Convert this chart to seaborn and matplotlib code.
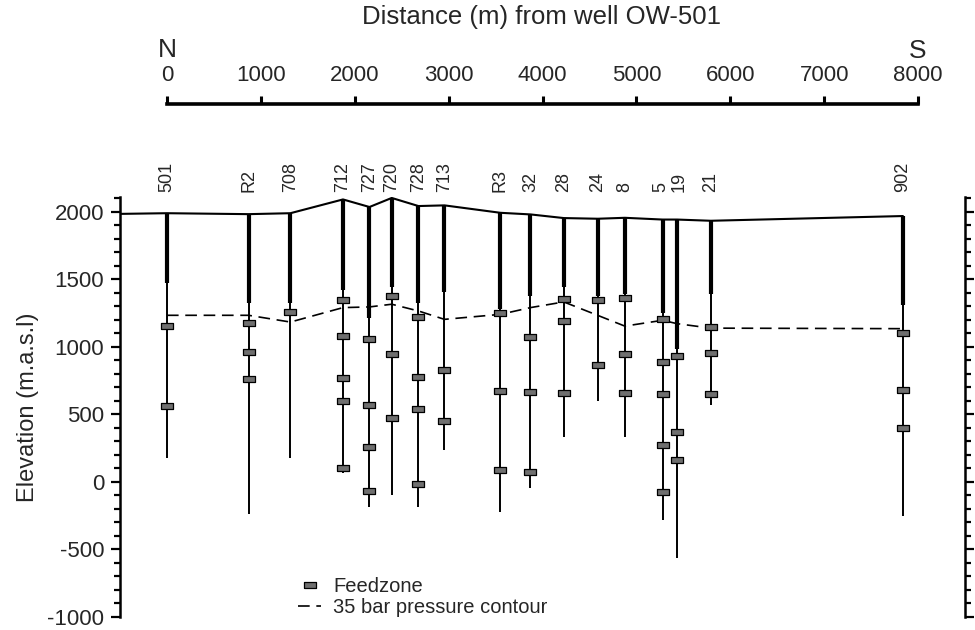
import matplotlib
matplotlib.use("Agg")
import matplotlib.pyplot as plt
import matplotlib.transforms as mtransforms
from matplotlib.lines import Line2D
from matplotlib.ticker import MultipleLocator
import seaborn as sns
import pandas as pd

# Wells along the N-S cross-section
wells = ["501", "R2", "708", "712", "727", "720", "728", "713", "R3", "32",
         "28", "24", "8", "5", "19", "21", "902"]
well_dist = [0, 870, 1315, 1875, 2157, 2394, 2679, 2956, 3552, 3872,
             4227, 4589, 4877, 5279, 5434, 5793, 7839]
well_top = [1990, 1983, 1990, 2092, 2036, 2103, 2043, 2048, 1993, 1981,
            1954, 1949, 1956, 1943, 1943, 1934, 1969]
casing_bottom = [1472, 1323, 1323, 1422, 1217, 1440, 1328, 1403, 1284, 1378,
                 1445, 1378, 1390, 1254, 981, 1390, 1311]
well_bottom = [174, -235, 174, 63, -186, -99, -186, 236, -223, -45,
               335, 601, 335, -280, -563, 571, -253]

# Ground surface profile
surface_dist = [-500, 0, 870, 1315, 1875, 2157, 2394, 2679, 2956, 3552, 3872,
                4227, 4589, 4877, 5279, 5434, 5793, 7839]
surface_elev = [1985, 1990, 1983, 1990, 2092, 2036, 2103, 2043, 2048, 1993, 1981,
                1954, 1949, 1956, 1943, 1943, 1934, 1969]

# Feedzones (well, elevation m.a.s.l)
feed_well = ["501", "501",
             "R2", "R2", "R2",
             "708",
             "712", "712", "712", "712", "712",
             "727", "727", "727", "727",
             "720", "720", "720",
             "728", "728", "728", "728",
             "713", "713",
             "R3", "R3", "R3",
             "32", "32", "32",
             "28", "28", "28",
             "24", "24",
             "8", "8", "8",
             "5", "5", "5", "5", "5",
             "19", "19", "19",
             "21", "21", "21",
             "902", "902", "902"]
feed_elev = [1154, 564,
             1174, 961, 762,
             1261,
             1345, 1080, 770, 599, 102,
             1062, 569, 261, -67,
             1380, 951, 477,
             1224, 775, 539, -17,
             829, 452,
             1249, 673, 85,
             1072, 666, 72,
             1358, 1189, 658,
             1351, 869,
             1363, 951, 658,
             1204, 889, 651, 276, -77,
             931, 370, 162,
             1147, 953, 651,
             1105, 678, 397]

# 35 bar pressure contour
contour_dist = [0, 870, 1315, 1875, 2157, 2394, 2679, 2956, 3552, 3872,
                4227, 4877, 5279, 5434, 5793, 7839]
contour_elev = [1234, 1234, 1184, 1291, 1296, 1316, 1266, 1204, 1241, 1291,
                1333, 1154, 1197, 1172, 1139, 1135]

top_ticks = [0, 1000, 2000, 3000, 4000, 5000, 6000, 7000, 8000]
y_ticks = [-1000, -500, 0, 500, 1000, 1500, 2000]

sns.set_style("white")
plt.rcParams["font.family"] = ["Liberation Sans", "DejaVu Sans"]
plt.rcParams["axes.unicode_minus"] = False

W, H = 975, 630
fig = plt.figure(figsize=(W / 100, H / 100), dpi=100)

def fx(px):
    return px / W

def fy(py):
    return 1 - py / H

ax = fig.add_axes([fx(120), fy(617), fx(965) - fx(120), fy(197) - fy(617)])
ax.set_xlim(-500, 8500)
ax.set_ylim(-1000, 2110)

# well bores: thin open hole to total depth, thick casing near the top
dist_of = dict(zip(wells, well_dist))
ax.vlines(well_dist, well_bottom, well_top, color="black", lw=1.4, zorder=2)
ax.vlines(well_dist, casing_bottom, well_top, color="black", lw=3.0, zorder=3)

surf = pd.DataFrame({"dist": surface_dist, "elev": surface_elev})
sns.lineplot(data=surf, x="dist", y="elev", ax=ax, color="black", lw=1.5,
             sort=False, errorbar=None, zorder=4)

cont = pd.DataFrame({"dist": contour_dist, "elev": contour_elev})
sns.lineplot(data=cont, x="dist", y="elev", ax=ax, color="black", lw=1.2,
             linestyle=(0, (7, 4)), sort=False, errorbar=None, zorder=4)

feed = pd.DataFrame({"well": feed_well, "elev": feed_elev})
feed["dist"] = feed["well"].map(dist_of)
rect = [(-1, -0.45), (1, -0.45), (1, 0.45), (-1, 0.45), (-1, -0.45)]
sns.scatterplot(data=feed, x="dist", y="elev", ax=ax, marker=rect, s=85,
                color="#6f6f6f", edgecolor="black", linewidth=0.9, zorder=5)

# well names above the section (5 and 19 sit close together, nudge apart)
lab_tr = mtransforms.blended_transform_factory(ax.transData, ax.transAxes)
nudge_px = {"5": -2, "19": 2}
for name, d in zip(wells, well_dist):
    tr = lab_tr + mtransforms.ScaledTranslation(nudge_px.get(name, 0) / 100, 0,
                                                fig.dpi_scale_trans)
    ax.text(d, 1.013, name, transform=tr, rotation=90, ha="center",
            va="bottom", fontsize=13, clip_on=False)

# y axes on both sides
for side in ["top", "bottom"]:
    ax.spines[side].set_visible(False)
for side in ["left", "right"]:
    ax.spines[side].set_linewidth(1.8)
    ax.spines[side].set_color("black")
ax.set_xticks([])
ax.set_yticks(y_ticks)
ax.yaxis.set_minor_locator(MultipleLocator(100))
ax.tick_params(axis="y", which="major", direction="out", length=6.5, width=1.6,
               left=True, right=True, labelleft=True, labelright=False,
               labelsize=16, pad=5, color="black")
ax.tick_params(axis="y", which="minor", direction="out", length=4.5, width=1.6,
               left=True, right=True, color="black")
ax.set_xlabel("")
ax.set_ylabel("Elevation (m.a.s.l)", fontsize=17, labelpad=6)

# legend
handles = [
    Line2D([], [], marker=rect, markersize=9, linestyle="none",
           markerfacecolor="#6f6f6f", markeredgecolor="black",
           markeredgewidth=0.9),
    Line2D([], [], color="black", lw=1.2, linestyle=(0, (7, 4))),
]
ax.legend(handles, ["Feedzone", "35 bar pressure contour"], loc="upper left",
          bbox_to_anchor=(fx(298), fy(577)), bbox_transform=fig.transFigure,
          frameon=False, fontsize=14.5, handlelength=1.15, handletextpad=0.6,
          borderpad=0, borderaxespad=0, labelspacing=0.08)

# distance scale along the top
axt_h = 0.03
axt = fig.add_axes([ax.get_position().x0, fy(104) - axt_h,
                    ax.get_position().width, axt_h])
axt.set_xlim(ax.get_xlim())
axt.set_ylim(0, 1)
axt.patch.set_visible(False)
for side in ["left", "right", "bottom"]:
    axt.spines[side].set_visible(False)
axt.spines["top"].set_bounds(0, 8000)
axt.spines["top"].set_linewidth(2.6)
axt.spines["top"].set_color("black")
axt.set_yticks([])
axt.set_xticks(top_ticks)
axt.xaxis.set_ticks_position("top")
axt.xaxis.set_label_position("top")
axt.tick_params(axis="x", direction="out", length=6, width=2.2, labelsize=16,
                pad=7, color="black", top=True, bottom=False,
                labeltop=True, labelbottom=False)
axt.set_xticklabels([str(t) for t in top_ticks])

top_tr = mtransforms.blended_transform_factory(axt.transData, fig.transFigure)
axt.text(0, fy(50), "N", transform=top_tr, ha="center", va="center", fontsize=19)
axt.text(8000, fy(51), "S", transform=top_tr, ha="center", va="center", fontsize=19)
fig.text(fx(542), fy(17), "Distance (m) from well OW-501", ha="center",
         va="center", fontsize=18.5)

fig.savefig("out.png", dpi=100)
